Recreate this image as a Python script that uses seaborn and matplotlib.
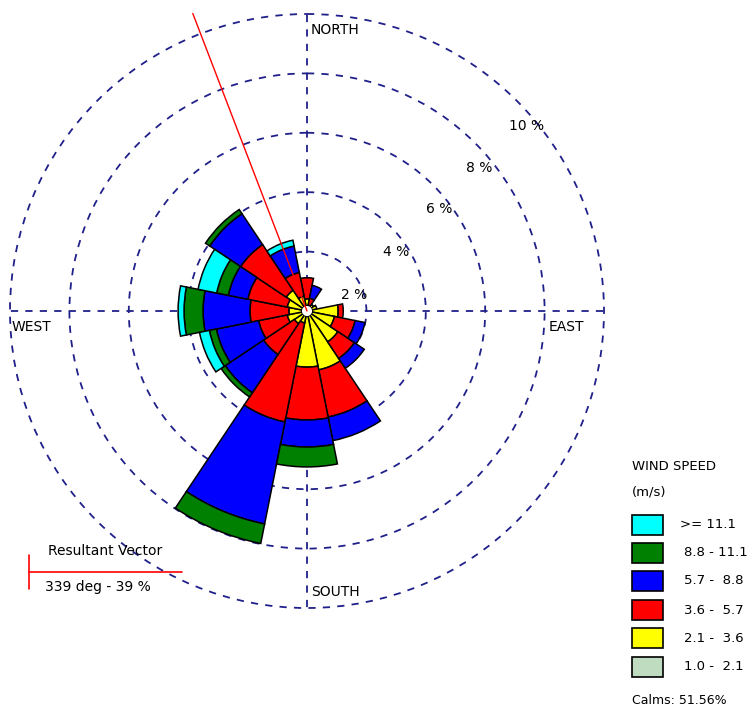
import numpy as np
import matplotlib
matplotlib.use('Agg')
import matplotlib.pyplot as plt
import seaborn as sns
from matplotlib.patches import Rectangle
from matplotlib.lines import Line2D

# ---------------- data ----------------
directions = ['N', 'NNE', 'NE', 'ENE', 'E', 'ESE', 'SE', 'SSE',
              'S', 'SSW', 'SW', 'WSW', 'W', 'WNW', 'NW', 'NNW']
bearings_deg = [0, 22.5, 45, 67.5, 90, 112.5, 135, 157.5,
                180, 202.5, 225, 247.5, 270, 292.5, 315, 337.5]

speed_labels = ['1.0 -  2.1', '2.1 -  3.6', '3.6 -  5.7',
                '5.7 -  8.8', '8.8 - 11.1', '>= 11.1']

# frequency (%) per direction for each speed class
freq_1_0_2_1 = [0, 0, 0, 0, 0, 0, 0, 0, 0, 0, 0, 0, 0, 0, 0, 0]
freq_2_1_3_6 = [0.24, 0.03, 0.10, 0.17, 0.88, 0.77, 1.08, 1.85,
                1.72, 0.24, 0.34, 0.51, 0.44, 0.51, 0.67, 0.34]
freq_3_6_5_7 = [0.71, 0.24, 0, 0, 0.17, 0.71, 0.67, 1.62,
                1.78, 3.40, 1.25, 0.98, 1.31, 1.35, 1.85, 0.81]
freq_5_7_8_8 = [0, 0.44, 0, 0, 0, 0.34, 0.40, 0.81,
                0.91, 3.50, 1.55, 1.45, 1.58, 0.67, 1.25, 0.91]
freq_8_8_11_1 = [0, 0, 0, 0, 0, 0, 0, 0,
                 0.67, 0.67, 0.17, 0.24, 0.64, 0.40, 0.17, 0]
freq_ge_11_1 = [0, 0, 0, 0, 0, 0, 0, 0,
                0, 0, 0, 0.34, 0.20, 0.64, 0, 0.20]

calms_pct = 51.56
calm_radius = 0.17
resultant_deg = 339
resultant_pct = 39
ring_values = [2, 4, 6, 8, 10]
ring_labels = ['2 %', '4 %', '6 %', '8 %', '10 %']
compass_labels = ['NORTH', 'EAST', 'SOUTH', 'WEST']

# ---------------- style ----------------
sns.set_theme(style='white')
plt.rcParams['font.family'] = ['DejaVu Sans']
plt.rcParams['text.color'] = 'black'

class_colors = sns.color_palette(['#C0DCC0', '#FFFF00', '#FF0000',
                                  '#0000FF', '#008000', '#00FFFF'])
grid_color = '#20208a'

W, H = 756, 711
cx, cy, R10 = 307, 311, 297
rmax = 10.06
R = R10 * rmax / 10

fig = plt.figure(figsize=(W / 100, H / 100), dpi=100)
fig.patch.set_facecolor('white')
ax = fig.add_axes([(cx - R) / W, (H - cy - R) / H, 2 * R / W, 2 * R / H],
                  projection='polar')
ax.set_theta_zero_location('N')
ax.set_theta_direction(-1)
ax.set_facecolor('white')

theta = np.deg2rad(bearings_deg)
width = np.deg2rad(22.5)
series = [freq_1_0_2_1, freq_2_1_3_6, freq_3_6_5_7,
          freq_5_7_8_8, freq_8_8_11_1, freq_ge_11_1]
bottom = np.full(len(directions), calm_radius)
for vals, col in zip(series, class_colors):
    v = np.asarray(vals, dtype=float)
    m = v > 0
    if m.any():
        ax.bar(theta[m], v[m], width=width, bottom=bottom[m], color=col,
               edgecolor='black', linewidth=1.1, zorder=3)
    bottom = bottom + v

# calm circle
ax.bar([0], [calm_radius], width=2 * np.pi, bottom=0, color='white',
       edgecolor='none', zorder=4)

# resultant vector line
vector_line_len = 10.73
ax.plot([np.deg2rad(resultant_deg)] * 2, [0, vector_line_len], color='red',
        linewidth=1.0, zorder=5, clip_on=False)

ax.set_ylim(0, rmax)
ax.set_yticks(ring_values)
ax.set_yticklabels([])
ax.set_xticks(np.deg2rad([0, 90, 180, 270]))
ax.set_xticklabels([])
ax.grid(True, color=grid_color, linestyle=(0, (4, 4)), linewidth=1.3)
ax.spines['polar'].set_visible(False)
ax.tick_params(length=0, pad=0)


def px(x, y):
    return x / W, 1 - y / H


fs = 10
# compass labels
for lab, (x, y) in zip(compass_labels, [(311, 30), (549, 327), (311, 592), (12, 327)]):
    fig.text(*px(x, y), lab, ha='left', va='center', fontsize=fs, color='black')

# ring labels
for lab, (x, y) in zip(ring_labels, [(354, 295), (396, 252), (439, 209),
                                     (479, 168), (527, 126)]):
    fig.text(*px(x, y), lab, ha='center', va='center', fontsize=fs, color='black')

# legend
fig.text(*px(632, 467), 'WIND SPEED', ha='left', va='center', fontsize=9.5)
fig.text(*px(632, 492), '(m/s)', ha='left', va='center', fontsize=9.5)
box_tops = [515, 543, 571, 600, 628, 657]
legend_order = list(range(len(speed_labels)))[::-1]
for top, idx in zip(box_tops, legend_order):
    x0, y0 = px(632, top + 20)
    fig.add_artist(Rectangle((x0, y0), 31 / W, 20 / H, transform=fig.transFigure,
                             facecolor=class_colors[idx], edgecolor='black',
                             linewidth=1.2))
    lx = 680 if speed_labels[idx].startswith('>') else 684
    fig.text(*px(lx, top + 10), speed_labels[idx], ha='left', va='center',
             fontsize=9.5)
fig.text(*px(632, 700), f'Calms: {calms_pct:.2f}%', ha='left', va='center',
         fontsize=9)

# resultant vector annotation
fig.add_artist(Line2D([29 / W, 182 / W], [1 - 572 / H] * 2, color='red',
                      linewidth=1.2, transform=fig.transFigure))
fig.add_artist(Line2D([29 / W] * 2, [1 - 555 / H, 1 - 589 / H], color='red',
                      linewidth=1.2, transform=fig.transFigure))
fig.text(*px(48, 551), 'Resultant Vector', ha='left', va='center', fontsize=fs)
fig.text(*px(45, 587), f'{resultant_deg} deg - {resultant_pct} %', ha='left',
         va='center', fontsize=fs)

fig.savefig('out.png', dpi=100, facecolor='white')
